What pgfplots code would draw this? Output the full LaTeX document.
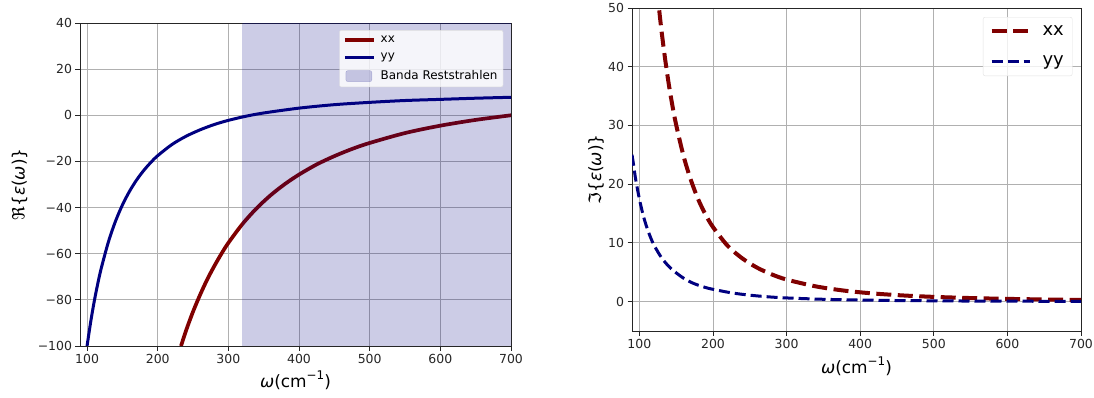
\documentclass[border=0pt]{standalone}
\usepackage{pgfplots}
\pgfplotsset{compat=1.18}
\usepackage{fontspec}
\setmainfont{DejaVu Sans}
\definecolor{xxred}{RGB}{128,0,0}
\definecolor{yyblue}{RGB}{0,0,128}
\definecolor{gridc}{RGB}{176,176,176}
\newcommand{\lbl}{\fontsize{17}{19}\selectfont}
\newcommand{\mysup}[1]{\raisebox{0.85ex}{\fontsize{12}{12}\selectfont #1}}

\pgfplotsset{
  myaxis/.style={
    scale only axis,
    axis line style={black!85, line width=0.9bp},
    tick align=outside, tick pos=left,
    major tick length=4.5bp,
    every tick/.style={black!85, line width=0.9bp},
    grid=major,
    major grid style={gridc, line width=0.9bp},
    ticklabel style={font=\fontsize{12.5}{14}\selectfont, text=black!85},
    /pgf/number format/assume math mode=true,
    xtick={100,200,...,700},
    xmin=90, xmax=700,
    label style={font=\lbl},
  },
  shortline/.style={legend image code/.code={\draw[##1] (0bp,0bp) -- (29bp,0bp); \path (32bp,0bp);}},
  longline/.style={legend image code/.code={\draw[##1] (0bp,0bp) -- (38bp,0bp); \path (47bp,0bp);}},
  spanlegend/.style={legend image code/.code={\draw[##1] (1bp,-5.5bp) rectangle (27bp,5.5bp); \path (32bp,0bp);}},
}

\begin{document}
\begin{tikzpicture}[x=1bp,y=1bp]
% ---------- left: real part ----------
\begin{axis}[myaxis,
  at={(80bp,52bp)}, anchor=south west,
  width=431bp, height=323bp,
  ymin=-100, ymax=40,
  ytick={-100,-80,-60,-40,-20,0,20,40},
  yticklabels={−100,−80,−60,−40,−20,0,20,40},
  xlabel={{\itshape ω}(cm\mysup{−1})},
  ylabel={ℜ\{{\itshape ε}({\itshape ω})\}},
  xlabel style={at={(axis description cs:0.5,-0.105)}, anchor=center},
  ylabel style={at={(axis description cs:-0.14,0.5)}, anchor=center, rotate=0},
  legend style={at={(0.982,0.978)}, anchor=north east,
    font=\fontsize{12}{13}\selectfont, draw=black!12, fill=white,
    fill opacity=0.8, text opacity=1, rounded corners=2pt,
    inner sep=3.5bp, row sep=5.5bp},
  shortline,
  legend cell align=left,
  clip=true,
]
\addplot[xxred, line width=3.7bp, smooth] coordinates {
(233,-100) (240,-93.4) (250,-85.1) (260,-77.8) (270,-71.2) (280,-65.4)
(290,-60.1) (300,-55.3) (320,-47.1) (340,-40.3) (360,-34.6) (380,-29.8)
(400,-25.7) (425,-21.3) (450,-17.7) (475,-14.6) (500,-12.0) (550,-7.7)
(600,-4.5) (650,-2.0) (700,0.0)};
\addlegendentry{xx}
\addplot[yyblue, line width=3bp, smooth] coordinates {
(100,-100) (105,-89.8) (110,-80.9) (115,-73.2) (120,-66.4) (130,-55.1)
(140,-46.1) (150,-38.9) (160,-33.0) (170,-28.1) (180,-24.0) (190,-20.5)
(200,-17.5) (220,-12.7) (240,-9.1) (260,-6.3) (280,-4.0) (300,-2.2)
(325,-0.4) (350,1.0) (400,3.1) (450,4.6) (500,5.6) (550,6.4) (600,6.9)
(650,7.4) (700,7.8)};
\addlegendentry{yy}
\addplot[fill=yyblue, fill opacity=0.2, draw=yyblue, draw opacity=0.2, spanlegend]
  coordinates {(320,-100) (320,40) (700,40) (700,-100)} -- cycle;
\addlegendentry{Banda Reststrahlen}
\end{axis}

% ---------- right: imaginary part ----------
\begin{axis}[myaxis,
  at={(632bp,67bp)}, anchor=south west,
  width=449bp, height=323bp,
  ymin=-5, ymax=50,
  ytick={0,10,20,30,40,50},
  xlabel={{\itshape ω}(cm\mysup{−1})},
  ylabel={ℑ\{{\itshape ε}({\itshape ω})\}},
  xlabel style={at={(axis description cs:0.5,-0.11)}, anchor=center},
  ylabel style={at={(axis description cs:-0.08,0.5)}, anchor=center},
  legend style={at={(0.981,0.972)}, anchor=north east,
    font=\fontsize{18}{19}\selectfont, draw=black!12, fill=white,
    fill opacity=0.8, text opacity=1, rounded corners=2pt,
    inner sep=6.5bp, row sep=15bp},
  longline,
  legend cell align=left,
  clip=true,
]
\addplot[xxred, line width=4bp, dash pattern=on 15bp off 6.5bp, smooth] coordinates {
(127,49.6) (130,46.2) (135,41.3) (140,37.0) (145,33.3) (150,30.1) (160,24.8)
(170,20.7) (180,17.4) (190,14.8) (200,12.7) (220,9.5) (240,7.35) (260,5.78)
(280,4.63) (300,3.76) (340,2.59) (380,1.85) (420,1.37) (460,1.04) (500,0.81)
(550,0.61) (600,0.47) (650,0.37) (700,0.30)};
\addlegendentry{xx}
\addplot[yyblue, line width=3bp, dash pattern=on 11bp off 5bp, smooth] coordinates {
(90,25.0) (92,23.4) (95,20.8) (100,17.5) (105,14.8) (110,12.7) (115,11.0)
(120,9.6) (130,7.5) (140,6.0) (150,4.9) (160,4.0) (170,3.3) (180,2.8)
(190,2.4) (200,2.1) (225,1.5) (250,1.1) (275,0.82) (300,0.63) (350,0.40)
(400,0.27) (450,0.19) (500,0.14) (550,0.10) (600,0.08) (650,0.06) (700,0.05)};
\addlegendentry{yy}
\end{axis}
\pgfresetboundingbox
\useasboundingbox (0,0) rectangle (1094bp,398bp);
\end{tikzpicture}
\end{document}
